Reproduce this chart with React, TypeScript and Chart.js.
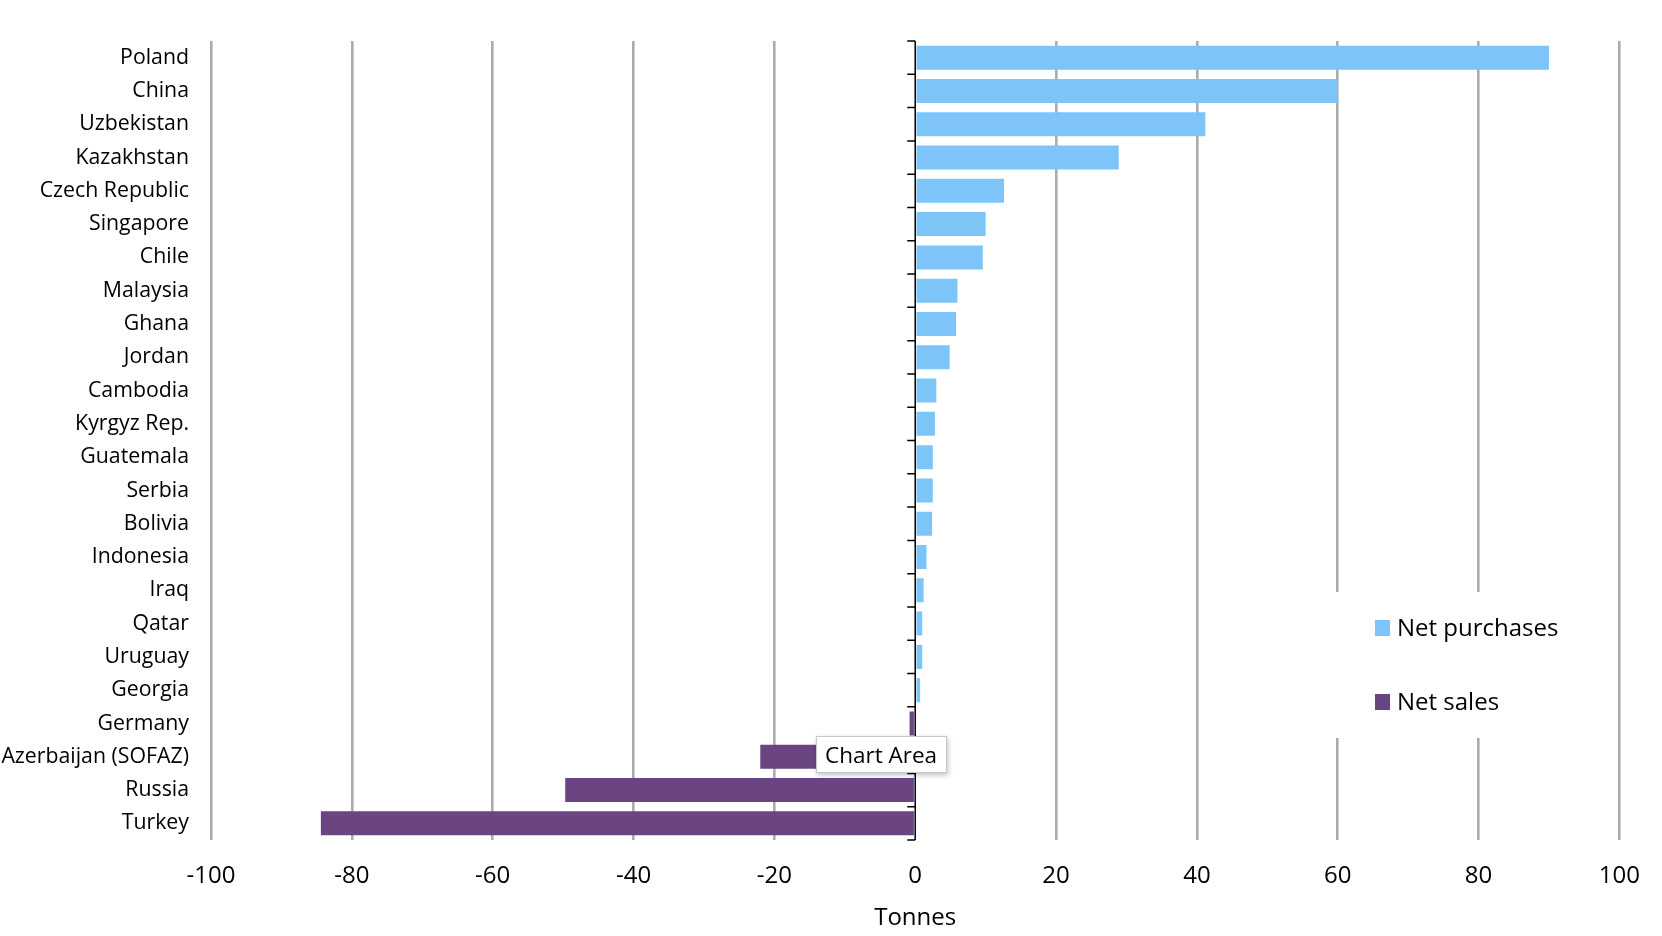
import React, { useEffect, useRef } from 'react';
import { Chart, registerables } from 'chart.js';

Chart.register(...registerables);

// countries, top to bottom
const countries = [
  'Poland', 'China', 'Uzbekistan', 'Kazakhstan', 'Czech Republic', 'Singapore',
  'Chile', 'Malaysia', 'Ghana', 'Jordan', 'Cambodia', 'Kyrgyz Rep.', 'Guatemala',
  'Serbia', 'Bolivia', 'Indonesia', 'Iraq', 'Qatar', 'Uruguay', 'Georgia',
  'Germany', 'Azerbaijan (SOFAZ)', 'Russia', 'Turkey',
];

// tonnes
const netPurchases = [
  90.0, 60.0, 41.2, 28.9, 12.6, 10.0, 9.6, 6.0, 5.8, 4.9, 3.0, 2.8, 2.5,
  2.5, 2.4, 1.6, 1.2, 1.0, 1.0, 0.7, null, null, null, null,
];
const netSales = [
  null, null, null, null, null, null, null, null, null, null, null, null, null,
  null, null, null, null, null, null, null, -0.8, -22.0, -49.7, -84.4,
];

const xMin = -100;
const xMax = 100;
const xStep = 20;

const FONT = "'Open Sans', 'Noto Sans', sans-serif";

// black zero axis with small ticks between categories
const zeroAxis = {
  id: 'zeroAxis',
  afterDatasetsDraw(chart: any) {
    const { ctx, chartArea, scales } = chart;
    const x0 = scales.x.getPixelForValue(0);
    const n = countries.length;
    const step = (chartArea.bottom - chartArea.top) / n;
    ctx.save();
    ctx.strokeStyle = '#000';
    ctx.lineWidth = 1.5;
    ctx.beginPath();
    ctx.moveTo(x0, chartArea.top);
    ctx.lineTo(x0, chartArea.bottom);
    for (let i = 0; i <= n; i++) {
      const y = chartArea.top + i * step;
      ctx.moveTo(x0 - 8, y);
      ctx.lineTo(x0, y);
    }
    ctx.stroke();
    ctx.restore();
  },
};

// legend box sitting inside the plot, on the right
const boxLegend = {
  id: 'boxLegend',
  afterDraw(chart: any) {
    const { ctx } = chart;
    ctx.save();
    ctx.fillStyle = '#fff';
    ctx.fillRect(1336, 592, 264, 146);
    ctx.font = `24px ${FONT}`;
    ctx.textBaseline = 'middle';
    chart.data.datasets.forEach((ds: any, i: number) => {
      const cy = 628 + i * 74;
      ctx.fillStyle = ds.backgroundColor;
      ctx.fillRect(1375, cy - 8, 15, 16);
      ctx.fillStyle = '#000';
      ctx.fillText(ds.label, 1397, cy + 1);
    });
    ctx.restore();
  },
};

const App: React.FC = () => {
  const canvasRef = useRef<HTMLCanvasElement>(null);

  useEffect(() => {
    if (!canvasRef.current) return;
    const chart = new Chart(canvasRef.current, {
      type: 'bar',
      data: {
        labels: countries,
        datasets: [
          {
            label: 'Net purchases',
            data: netPurchases,
            backgroundColor: '#7dc5f8',
            barPercentage: 0.72,
            categoryPercentage: 1,
          },
          {
            label: 'Net sales',
            data: netSales,
            backgroundColor: '#6a4582',
            barPercentage: 0.72,
            categoryPercentage: 1,
          },
        ],
      },
      options: {
        indexAxis: 'y',
        animation: false,
        responsive: false,
        layout: { padding: { top: 41, right: 35, bottom: 3, left: 0 } },
        plugins: {
          legend: { display: false },
          tooltip: { enabled: false },
        },
        scales: {
          x: {
            stacked: true,
            min: xMin,
            max: xMax,
            ticks: {
              stepSize: xStep,
              padding: 22,
              color: '#000',
              font: { family: FONT, size: 24 },
            },
            grid: {
              drawTicks: false,
              lineWidth: 2.6,
              color: (c: any) => (c.tick && c.tick.value === 0 ? 'rgba(0,0,0,0)' : '#ababab'),
            },
            border: { display: false },
            title: {
              display: true,
              text: 'Tonnes',
              color: '#000',
              font: { family: FONT, size: 24 },
              padding: { top: 10, bottom: 0 },
            },
            afterFit: (scale: any) => {
              scale.height = 93;
            },
          },
          y: {
            stacked: true,
            grid: { display: false, drawTicks: false },
            border: { display: false },
            ticks: {
              padding: 22,
              color: '#000',
              font: { family: FONT, size: 21.3 },
            },
            afterFit: (scale: any) => {
              scale.width = 211;
            },
          },
        },
      },
      plugins: [zeroAxis, boxLegend],
    });
    return () => chart.destroy();
  }, []);

  return (
    <div style={{ position: 'absolute', left: 0, top: 0, width: 1662, height: 936, background: '#fff' }}>
      <canvas ref={canvasRef} width={1662} height={936} style={{ width: 1662, height: 936 }} />
      <div
        style={{
          position: 'absolute',
          left: 816,
          top: 736,
          height: 37,
          padding: '0 9px 0 8px',
          lineHeight: '36px',
          background: '#fff',
          border: '1px solid #c8c8c8',
          boxShadow: '1px 2px 5px rgba(0,0,0,0.25)',
          fontFamily: FONT,
          fontSize: 22.5,
          color: '#000',
          boxSizing: 'border-box',
          whiteSpace: 'nowrap',
        }}
      >
        Chart Area
      </div>
    </div>
  );
};

export default App;
